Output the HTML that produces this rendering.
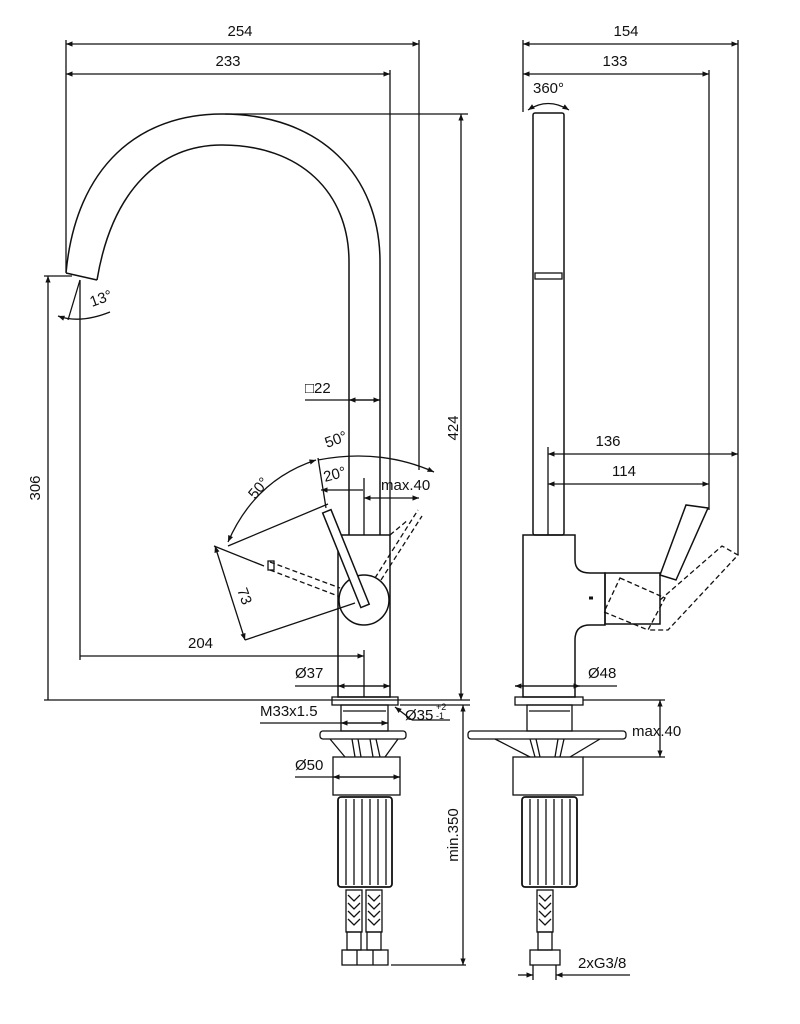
<!DOCTYPE html>
<html><head><meta charset="utf-8"><style>
html,body{margin:0;padding:0;background:#fff}
svg{display:block}
text{font-family:"Liberation Sans",sans-serif;font-size:15px;fill:#111}
</style></head><body>
<svg width="800" height="1024" viewBox="0 0 800 1024" xmlns="http://www.w3.org/2000/svg">
<defs>
<marker id="a" viewBox="0 0 10 10" refX="10" refY="5" markerWidth="9" markerHeight="5" orient="auto-start-reverse"><path d="M0,1 L10,5 L0,9z" fill="#111"/></marker>
</defs>
<g stroke="#111" fill="none" stroke-width="1.3">
<line x1="66" y1="40" x2="66" y2="272"/>
<line x1="390" y1="70" x2="390" y2="535"/>
<line x1="419" y1="40" x2="419" y2="470"/>
<line x1="66" y1="44" x2="419" y2="44" marker-start="url(#a)" marker-end="url(#a)"/>
<line x1="66" y1="74" x2="390" y2="74" marker-start="url(#a)" marker-end="url(#a)"/>
<line x1="225" y1="114" x2="468" y2="114"/>
<line x1="461" y1="114" x2="461" y2="700" marker-start="url(#a)" marker-end="url(#a)"/>
<line x1="44" y1="276" x2="72" y2="276"/>
<line x1="48" y1="276" x2="48" y2="700" marker-start="url(#a)"/>
<line x1="44" y1="700" x2="470" y2="700"/>
<line x1="80" y1="280" x2="80" y2="660"/>
<line x1="80" y1="656" x2="364" y2="656" marker-end="url(#a)"/>
<line x1="364" y1="650" x2="364" y2="697"/>
<path d="M66,273 C76,165 140,114 222,114 C320,114 380,175 380,262 L380,535" stroke-width="1.5"/>
<path d="M97,280 C112,190 160,145 222,145 C300,145 349,192 349,262 L349,535" stroke-width="1.5"/>
<line x1="66" y1="273" x2="97" y2="280" stroke-width="1.5"/>
<line x1="80" y1="280" x2="68" y2="320"/>
<path d="M58,316 Q80,324 110,312" marker-start="url(#a)"/>
<line x1="305" y1="400" x2="380" y2="400"/>
<line x1="349" y1="400" x2="380" y2="400" marker-start="url(#a)" marker-end="url(#a)"/>
<rect x="338" y="535" width="52" height="162" stroke-width="1.5"/>
<circle cx="364" cy="600" r="25" stroke-width="1.5"/>
<g transform="rotate(-22 364 602)"><rect x="359" y="504" width="9" height="102" stroke-width="1.5" fill="#fff"/></g>
<line x1="364" y1="535" x2="364" y2="478"/>
<line x1="363" y1="490" x2="321" y2="490" marker-end="url(#a)"/>
<line x1="364" y1="498" x2="419" y2="498" marker-start="url(#a)" marker-end="url(#a)"/>
<line x1="326" y1="508" x2="318" y2="458"/>
<path d="M228,542 Q255,480 316,460" marker-start="url(#a)" marker-end="url(#a)"/>
<path d="M318,460 Q380,448 434,472" marker-end="url(#a)"/>
<line x1="228" y1="546" x2="328" y2="504"/>
<line x1="214" y1="546" x2="264" y2="566"/>
<line x1="215" y1="546" x2="245" y2="640" marker-start="url(#a)" marker-end="url(#a)"/>
<line x1="245" y1="640" x2="355" y2="603"/>
<g stroke-dasharray="5,3">
<line x1="270" y1="562" x2="340" y2="588"/>
<line x1="270" y1="570" x2="338" y2="596"/>
<line x1="375" y1="578" x2="418" y2="510"/>
<line x1="381" y1="580" x2="422" y2="516"/>
<line x1="390" y1="535" x2="408" y2="520"/>
</g>
<rect x="268" y="561" width="6" height="9" />
<line x1="295" y1="686" x2="390" y2="686"/>
<line x1="338" y1="686" x2="390" y2="686" marker-start="url(#a)" marker-end="url(#a)"/>
<rect x="332" y="697" width="66" height="8"/>
<rect x="341" y="705" width="47" height="26"/>
<line x1="343" y1="711" x2="386" y2="711"/>
<line x1="260" y1="723" x2="388" y2="723"/>
<line x1="341" y1="723" x2="388" y2="723" marker-start="url(#a)" marker-end="url(#a)"/>
<line x1="395" y1="707" x2="412" y2="720" marker-start="url(#a)"/>
<line x1="412" y1="720" x2="450" y2="720"/>
<rect x="320" y="731" width="86" height="8" rx="3"/>
<path d="M330,739 L345,757 M352,739 L355,757 M358,739 L361,757 M370,739 L373,757 M376,739 L380,757 M398,739 L385,757"/>
<rect x="333" y="757" width="67" height="38"/>
<line x1="295" y1="777" x2="400" y2="777"/>
<line x1="333" y1="777" x2="400" y2="777" marker-start="url(#a)" marker-end="url(#a)"/>
<rect x="338" y="797" width="54" height="90" rx="3" stroke-width="1.8"/>
<path d="M346,799V885 M354,799V885 M362,799V885 M370,799V885 M378,799V885 M386,799V885"/>
<rect x="346" y="890" width="16" height="42"/><rect x="366" y="890" width="16" height="42"/>
<path d="M348,895 l6,6 l6,-6 M348,903 l6,6 l6,-6 M348,911 l6,6 l6,-6 M348,919 l6,6 l6,-6 M368,895 l6,6 l6,-6 M368,903 l6,6 l6,-6 M368,911 l6,6 l6,-6 M368,919 l6,6 l6,-6"/>
<rect x="347" y="932" width="14" height="18"/><rect x="367" y="932" width="14" height="18"/>
<rect x="342" y="950" width="46" height="15"/>
<path d="M357,950V965 M373,950V965"/>
<line x1="391" y1="965" x2="466" y2="965"/>
<line x1="463" y1="705" x2="463" y2="965" marker-start="url(#a)" marker-end="url(#a)"/>
<line x1="400" y1="705" x2="470" y2="705"/>

<line x1="523" y1="40" x2="523" y2="112"/>
<line x1="738" y1="40" x2="738" y2="555"/>
<line x1="709" y1="70" x2="709" y2="510"/>
<line x1="523" y1="44" x2="738" y2="44" marker-start="url(#a)" marker-end="url(#a)"/>
<line x1="523" y1="74" x2="709" y2="74" marker-start="url(#a)" marker-end="url(#a)"/>
<path d="M528,110 Q548,97 569,110" marker-start="url(#a)" marker-end="url(#a)"/>
<rect x="533" y="113" width="31" height="422" rx="2" stroke-width="1.5"/>
<rect x="535" y="273" width="27" height="6"/>
<line x1="548" y1="447" x2="548" y2="535"/>
<line x1="548" y1="454" x2="738" y2="454" marker-start="url(#a)" marker-end="url(#a)"/>
<line x1="548" y1="484" x2="709" y2="484" marker-start="url(#a)" marker-end="url(#a)"/>
<path d="M523,535 L575,535 L575,560 Q575,573 590,573 L605,573 L605,625 L590,625 Q575,625 575,640 L575,697 L523,697 Z" stroke-width="1.5"/>
<rect x="605" y="573" width="55" height="51" stroke-width="1.5"/>
<line x1="589" y1="598" x2="593" y2="598" stroke-width="3"/>
<path d="M660,575 L686,505 L708,508 L676,580 Z" stroke-width="1.5"/>
<g stroke-dasharray="5,3">
<path d="M620,578 L665,598 L648,630 L604,612 Z"/>
<path d="M660,600 L722,546 L738,555 L668,630 L648,630"/>
</g>
<line x1="515" y1="686" x2="617" y2="686"/>
<line x1="515" y1="686" x2="580" y2="686" marker-start="url(#a)" marker-end="url(#a)"/>
<rect x="515" y="697" width="68" height="8"/>
<rect x="527" y="705" width="45" height="26"/>
<line x1="529" y1="711" x2="570" y2="711"/>
<rect x="468" y="731" width="158" height="8" rx="3"/>
<path d="M495,739 L530,757 M530,739 L535,757 M536,739 L540,757 M558,739 L555,757 M564,739 L560,757 M600,739 L570,757"/>
<rect x="513" y="757" width="70" height="38"/>
<rect x="522" y="797" width="55" height="90" rx="3" stroke-width="1.8"/>
<path d="M530,799V885 M538,799V885 M546,799V885 M554,799V885 M562,799V885 M570,799V885"/>
<rect x="537" y="890" width="16" height="42"/>
<path d="M539,895 l6,6 l6,-6 M539,903 l6,6 l6,-6 M539,911 l6,6 l6,-6 M539,919 l6,6 l6,-6"/>
<rect x="538" y="932" width="14" height="18"/>
<rect x="530" y="950" width="30" height="15"/>
<line x1="533" y1="965" x2="533" y2="980"/><line x1="556" y1="965" x2="556" y2="980"/>
<line x1="518" y1="975" x2="533" y2="975" marker-end="url(#a)"/>
<line x1="630" y1="975" x2="556" y2="975" marker-end="url(#a)"/>
<line x1="583" y1="700" x2="665" y2="700"/>
<line x1="583" y1="757" x2="665" y2="757"/>
<line x1="660" y1="700" x2="660" y2="757" marker-start="url(#a)" marker-end="url(#a)"/>
</g>
<text x="240" y="36" text-anchor="middle">254</text>
<text x="228" y="66" text-anchor="middle">233</text>
<text x="626" y="36" text-anchor="middle">154</text>
<text x="615" y="66" text-anchor="middle">133</text>
<text x="533" y="93">360°</text>
<text x="92" y="307" transform="rotate(-20 92 307)">13°</text>
<text x="305" y="393">□22</text>
<text x="458" y="428" text-anchor="middle" transform="rotate(-90 458 428)">424</text>
<text x="40" y="488" text-anchor="middle" transform="rotate(-90 40 488)">306</text>
<text x="327" y="448" transform="rotate(-20 327 448)">50°</text>
<text x="325" y="482" transform="rotate(-15 325 482)">20°</text>
<text x="381" y="490">max.40</text>
<text x="255" y="500" transform="rotate(-50 255 500)">50°</text>
<text x="237" y="590" transform="rotate(70 237 590)">73</text>
<text x="188" y="648">204</text>
<text x="295" y="678">Ø37</text>
<text x="260" y="716">M33x1.5</text>
<text x="405" y="720">Ø35</text>
<text x="436" y="710" style="font-size:9px">+2</text>
<text x="436" y="719" style="font-size:9px">-1</text>
<text x="295" y="770">Ø50</text>
<text x="458" y="835" text-anchor="middle" transform="rotate(-90 458 835)">min.350</text>
<text x="608" y="446" text-anchor="middle">136</text>
<text x="624" y="476" text-anchor="middle">114</text>
<text x="588" y="678">Ø48</text>
<text x="632" y="736">max.40</text>
<text x="578" y="968">2xG3/8</text>
</svg>
</body></html>
